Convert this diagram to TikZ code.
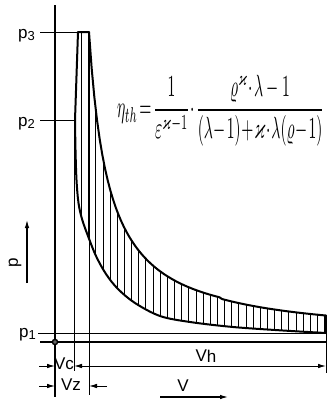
\documentclass[tikz,border=0pt]{standalone}
\usepackage{amsmath,amssymb}
\usepackage{graphicx}
\usepackage{fontspec}
\setmainfont{Liberation Sans}
\usetikzlibrary{arrows.meta}
\newcommand\cyclepath{plot[smooth,tension=0.55] coordinates {(326,333) (283,330.5) (233,327) (190,322) (160,316) (135,303) (118,289) (106,274) (96,256) (88,236) (82,219) (78.5,203) (76.5,180) (75.5,150) (75,120)} -- (78,32) -- (89,32) -- plot[domain=89:326,samples=90] (\x,{342-310*(19/(\x-70))^0.95}) -- cycle}
\begin{document}
\begin{tikzpicture}[x=1pt,y=-1pt,
  cyc/.style={line width=2pt,line join=round},
  axisline/.style={line width=1.4pt},
  thin/.style={line width=0.8pt},
  hatch/.style={line width=0.8pt},
  arr/.style={-{Latex[length=8pt,width=4.5pt]},line width=0.9pt},
  dimarr/.style={{Latex[length=8pt,width=4.5pt]}-{Latex[length=8pt,width=4.5pt]},line width=0.9pt},
  lbl/.style={inner sep=0pt,font=\fontsize{17}{17}\selectfont}]
\useasboundingbox (0,0) rectangle (327,405);
% hatching
\begin{scope}
  \clip \cyclepath;
  \foreach \k in {0,...,34}
    \draw[hatch] ({81.5+7.15*\k},20) -- ({81.5+7.15*\k},345);
\end{scope}
% coordinates
\coordinate (O) at (55,342);
\coordinate (ytop) at (55,5);
\coordinate (ybot) at (55,397);
\coordinate (xl) at (40,342);
\coordinate (xr) at (327,342);
\coordinate (c3l) at (40,32);
\coordinate (c3r) at (78,32);
\coordinate (c2l) at (40,120);
\coordinate (c2r) at (75,120);
\coordinate (c1l) at (38,333);
\coordinate (c1r) at (327,333);
\coordinate (vct) at (74,120);
\coordinate (vcb) at (74,371);
\coordinate (vzt) at (89,32);
\coordinate (vzb) at (89,395);
\coordinate (vht) at (326,333);
\coordinate (vhb) at (326,373);
% axes and reference lines
\draw[axisline] (ytop) -- (ybot);
\draw[axisline] (xl) -- (xr);
\draw[thin] (c3l) -- (c3r);
\draw[thin] (c2l) -- (c2r);
\draw[thin] (c1l) -- (c1r);
\draw[thin] (vct) -- (vcb);
\draw[thin] (vzt) -- (vzb);
\draw[thin] (vht) -- (vhb);
\draw[line width=1.4pt,fill=black!60] (O) circle (2.6);
% cycle
\draw[cyc] \cyclepath;
% labels p
\node[lbl,anchor=base west] (p3) at (18,38) {p\raisebox{-2pt}{\fontsize{13}{13}\selectfont 3}};
\node[lbl,anchor=base west] (p2) at (18,126) {p\raisebox{-2pt}{\fontsize{13}{13}\selectfont 2}};
\node[lbl,anchor=base west] (p1) at (19,337) {p\raisebox{-2pt}{\fontsize{13}{13}\selectfont 1}};
% p arrow
\coordinate (pa1) at (27,283);
\coordinate (pa2) at (27,220);
\draw[arr,line width=1.1pt] (pa1) -- (pa2);
\node[lbl,rotate=90] (plab) at (15,263) {p};
% dimensions
\coordinate (vcL) at (39,366);
\coordinate (vcA) at (55,366);
\coordinate (vhL) at (74,366);
\coordinate (vhR) at (326,366);
\draw[arr] (vcL) -- (vcA);
\draw[dimarr] (vhL) -- (vhR);
\node[lbl] (vc) at (64,364) {Vc};
\node[lbl] (vh) at (206,356) {V\raisebox{-1pt}{h}};
\coordinate (vzL) at (39,386);
\coordinate (vzA) at (55,386);
\coordinate (vzR) at (107,386);
\coordinate (vzB) at (89,386);
\draw[arr] (vzL) -- (vzA);
\draw[arr] (vzR) -- (vzB);
\node[lbl] (vz) at (71,385) {Vz};
\coordinate (va1) at (160,397);
\coordinate (va2) at (228,397);
\draw[arr,line width=1.1pt] (va1) -- (va2);
\node[lbl] (vlab) at (183,386) {V};
% formula
\node[inner sep=0pt,anchor=west] (eta) at (117,111) {\resizebox{207pt}{42pt}{$\eta_{th}\!=\!\dfrac{1}{\varepsilon^{\varkappa-1}}\!\cdot\!\dfrac{\varrho^{\varkappa}\!\cdot\!\lambda-1}{(\lambda\!-\!1)\!+\!\varkappa\!\cdot\!\lambda(\varrho\!-\!1)}$}};
\end{tikzpicture}
\end{document}
